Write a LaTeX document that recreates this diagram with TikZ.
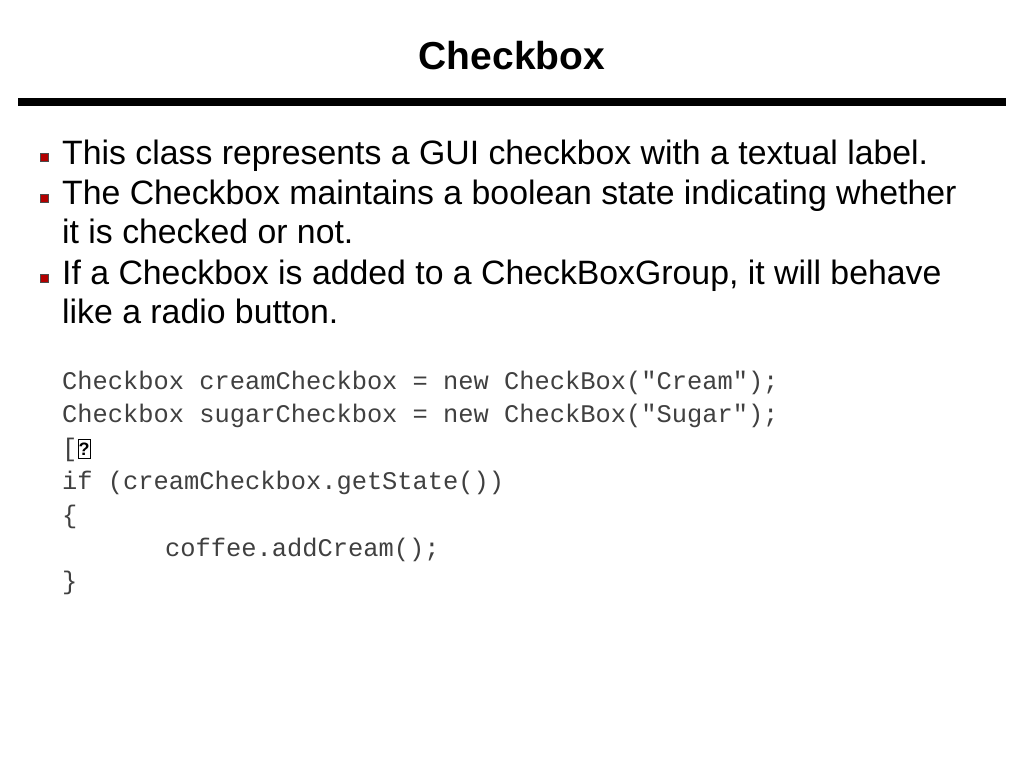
\documentclass[tikz,border=0pt]{standalone}
\usepackage{fontspec}
\setmainfont{Liberation Sans}
\setmonofont{Liberation Mono}
\begin{document}
\begin{tikzpicture}[x=1pt,y=-1pt,
  txt/.style={anchor=base west,inner sep=0pt,font=\fontsize{33.8}{33.8}\selectfont},
  code/.style={anchor=base west,inner sep=0pt,font=\ttfamily\fontsize{25.4}{25.4}\selectfont,text=black!75},
  bul/.style={fill=red!70!black,draw=black!70,line width=0.8pt}]
\useasboundingbox (0,0) rectangle (1024,768);
\node[inner sep=0pt,font=\bfseries\fontsize{39}{39}\selectfont] (title) at (512,56) {Checkbox};
\fill (18,98) rectangle (1006,106);
\foreach \y in {157,198,278} \draw[bul] (40,\y-4) rectangle (48,\y+4);
\node[txt] (l1) at (62,164) {This class represents a GUI checkbox with a textual label.};
\node[txt] (l2) at (62,204) {The Checkbox maintains a boolean state indicating whether};
\node[txt] (l3) at (62,243) {it is checked or not.};
\node[txt] (l4) at (62,284) {If a Checkbox is added to a CheckBoxGroup, it will behave};
\node[txt] (l5) at (62,323) {like a radio button.};
\node[code] (c1) at (62,389) {Checkbox creamCheckbox = new CheckBox("Cream");};
\node[code] (c2) at (62,422) {Checkbox sugarCheckbox = new CheckBox("Sugar");};
\node[code] (c3) at (62,456) {[};
\node[draw,line width=0.8pt,inner sep=0.5pt,font=\fontsize{18}{18}\selectfont\bfseries,minimum width=9,minimum height=19] (q) at (84,449) {?};
\node[code] (c4) at (62,489) {if (creamCheckbox.getState())};
\node[code] (c5) at (62,523) {\{};
\node[code] (c6) at (165,556) {coffee.addCream();};
\node[code] (c7) at (62,589) {\}};
\end{tikzpicture}
\end{document}
